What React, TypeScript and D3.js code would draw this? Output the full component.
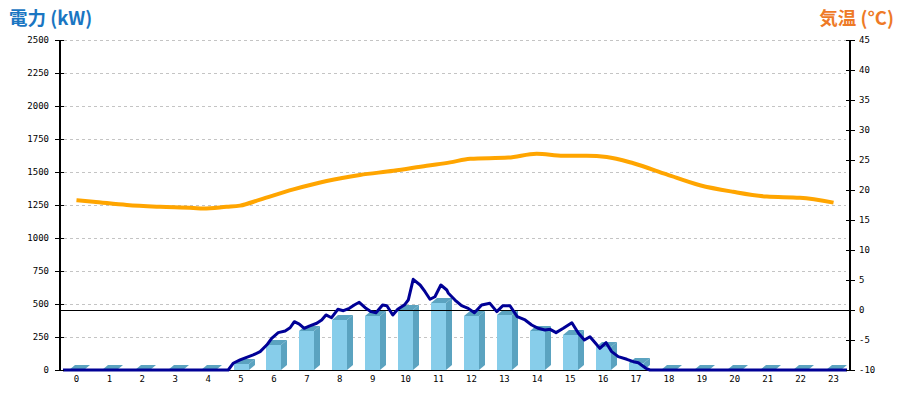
import React from "react";
import * as d3 from "d3";

const hours = d3.range(0, 24).map(String);
const barValues = [0, 0, 0, 0, 0, 45, 190, 295, 379, 409, 455, 510, 409, 417, 295, 265, 172, 55, 0, 0, 0, 0, 0, 0];

const powerTimes = [-0.41, 4.61, 4.76, 4.97, 5.17, 5.37, 5.58, 5.78, 5.93, 6.13, 6.34, 6.49, 6.62, 6.77, 6.92, 7.07, 7.3, 7.45, 7.58, 7.75, 7.94, 8.11, 8.29, 8.44, 8.59, 8.77, 8.95, 9.1, 9.3, 9.43, 9.61, 9.76, 9.96, 10.08, 10.23, 10.44, 10.59, 10.74, 10.89, 11.07, 11.25, 11.3, 11.5, 11.7, 11.9, 12.09, 12.31, 12.56, 12.77, 12.95, 13.17, 13.39, 13.63, 13.83, 14.03, 14.23, 14.39, 14.57, 14.79, 15.05, 15.25, 15.43, 15.6, 15.77, 15.9, 16.09, 16.26, 16.46, 16.72, 16.92, 17.07, 17.3, 17.42, 23.41];
const powerValues = [0, 0, 51, 76, 96, 114, 139, 189, 240, 283, 295, 320, 366, 348, 316, 333, 354, 379, 417, 396, 460, 449, 467, 492, 513, 472, 442, 434, 492, 487, 417, 460, 492, 530, 687, 644, 593, 536, 555, 644, 606, 581, 530, 487, 467, 434, 492, 505, 442, 487, 487, 404, 379, 341, 316, 303, 308, 283, 316, 358, 278, 227, 252, 202, 164, 207, 139, 101, 81, 63, 55, 13, 0, 0];

const tempTimes = [0, 0.51, 1.53, 2.54, 3.55, 3.85, 4.56, 4.97, 5.58, 6.59, 7.6, 8.61, 9.63, 10.64, 11.35, 11.96, 13.12, 13.98, 14.79, 15.5, 16.11, 16.92, 17.93, 18.94, 19.95, 20.97, 21.98, 23];
const tempValues = [18.3, 18.05, 17.5, 17.2, 17.0, 16.9, 17.2, 17.4, 18.4, 20.1, 21.5, 22.5, 23.2, 24.05, 24.6, 25.2, 25.4, 26.05, 25.7, 25.7, 25.5, 24.45, 22.6, 20.8, 19.7, 18.9, 18.7, 17.9];

const leftTicks = d3.range(0, 2501, 250);
const rightTicks = d3.range(-10, 46, 5);

const W = 900, H = 400;
const X0 = 60, X1 = 850, YT = 40, YB = 370;
const tickFont = "'DejaVu Sans Mono', monospace";
const titleFont = "'Noto Sans CJK JP', 'Noto Sans', sans-serif";

export default function App() {
  const band = d3.scaleBand<string>().domain(hours).range([X0, X1]).paddingInner(0).paddingOuter(0);
  const xt = d3.scaleLinear().domain([-0.5, 23.5]).range([X0, X1]);
  const yL = d3.scaleLinear().domain([0, 2500]).range([YB, YT]);
  const yR = d3.scaleLinear().domain([-10, 45]).range([YB, YT]);

  const powerLine = d3.line<number>().x((_, i) => xt(powerTimes[i])).y((d) => yL(d));
  const tempLine = d3.line<number>().x((_, i) => xt(tempTimes[i])).y((d) => yR(d)).curve(d3.curveMonotoneX);

  const bw = 15, dx = 6, dy = 5;
  const crisp = (v: number) => Math.round(v) + 0.5;

  return (
    <div style={{ position: "absolute", left: 0, top: 0 }}>
      <svg width={W} height={H} style={{ display: "block", background: "#fff" }}>
        {/* grid */}
        {leftTicks.filter((t) => t > 0).map((t) => (
          <line key={"g" + t} x1={X0 + 4} x2={X1 - 4} y1={crisp(yL(t))} y2={crisp(yL(t))} stroke="#c4c4c4" strokeWidth={1} strokeDasharray="3,3" />
        ))}
        {/* bars */}
        {barValues.map((v, i) => {
          const c = band(hours[i])! + band.bandwidth() / 2;
          const xa = Math.round(c - bw / 2), xb = xa + bw;
          const y = Math.round(yL(v));
          return (
            <g key={"b" + i}>
              {v > 0 && <rect x={xa} y={y} width={bw} height={YB - y} fill="#87cdea" />}
              {v > 0 && (
                <polygon points={`${xb},${y} ${xb + dx},${y - dy} ${xb + dx},${YB - dy} ${xb},${YB}`} fill="#5ba3c0" />
              )}
              <polygon points={`${xa},${y} ${xa + dx},${y - dy} ${xb + dx},${y - dy} ${xb},${y}`} fill="#5ba3c0" />
            </g>
          );
        })}
        {/* zero temperature line */}
        <line x1={X0} x2={X1} y1={crisp(yR(0))} y2={crisp(yR(0))} stroke="#000" strokeWidth={1} />
        {/* bottom axis line */}
        <line x1={X0} x2={X1} y1={crisp(YB)} y2={crisp(YB)} stroke="#000" strokeWidth={1} />
        {/* power line */}
        <path d={powerLine(powerValues)!} fill="none" stroke="#000096" strokeWidth={3} strokeLinejoin="round" />
        {/* temperature line */}
        <path d={tempLine(tempValues)!} fill="none" stroke="#ffa500" strokeWidth={4} />
        {/* left axis */}
        <line x1={X0} x2={X0} y1={YT} y2={YB} stroke="#000" strokeWidth={2} />
        {leftTicks.map((t) => (
          <g key={"l" + t}>
            <line x1={X0 - 5} x2={X0 + 4} y1={crisp(yL(t))} y2={crisp(yL(t))} stroke="#000" strokeWidth={1} />
            <text x={X0 - 11} y={yL(t)} dy="0.35em" textAnchor="end" fontFamily={tickFont} fontSize={9} fill="#000">{t}</text>
          </g>
        ))}
        {/* right axis */}
        <line x1={X1} x2={X1} y1={YT} y2={YB} stroke="#000" strokeWidth={2} />
        {rightTicks.map((t) => (
          <g key={"r" + t}>
            <line x1={X1 - 4} x2={X1 + 5} y1={crisp(yR(t))} y2={crisp(yR(t))} stroke="#000" strokeWidth={1} />
            <text x={X1 + 9} y={yR(t)} dy="0.35em" textAnchor="start" fontFamily={tickFont} fontSize={9} fill="#000">{t}</text>
          </g>
        ))}
        {/* x labels */}
        {hours.map((h) => (
          <text key={"x" + h} x={band(h)! + band.bandwidth() / 2} y={382} textAnchor="middle" fontFamily={tickFont} fontSize={9} fill="#000">{h}</text>
        ))}
        {/* titles */}
        <text x={9} y={25} fontFamily={titleFont} fontWeight="bold" fontSize={18.5} fill="#1a76c2">電力 (kW)</text>
        <text x={894} y={25} textAnchor="end" fontFamily={titleFont} fontWeight="bold" fontSize={18.5} fill="#ee7a26">気温 (°C)</text>
      </svg>
    </div>
  );
}
